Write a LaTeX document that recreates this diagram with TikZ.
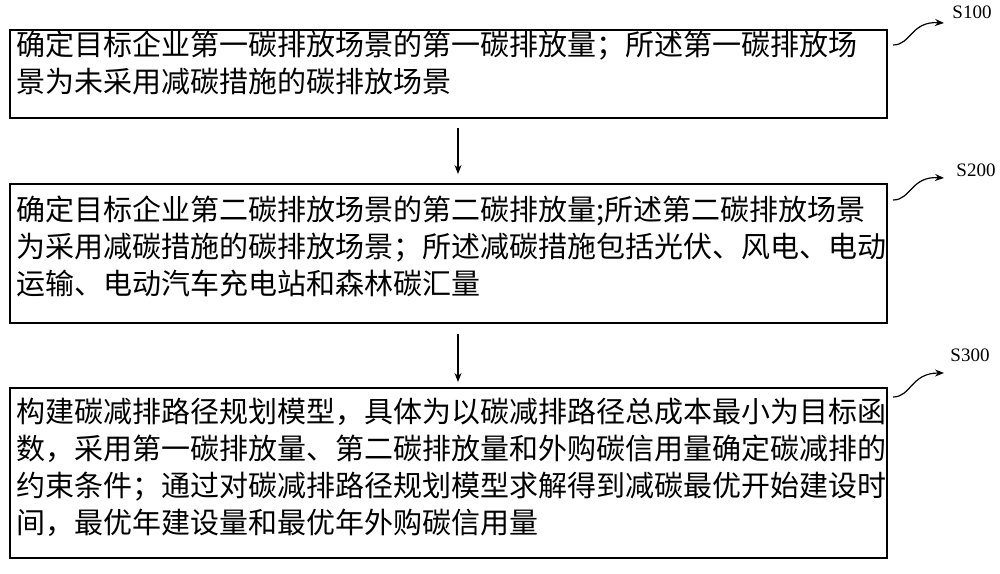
\documentclass[tikz,border=0pt]{standalone}
\usepackage{fontspec}
\setmainfont{Liberation Serif}
\newfontfamily\cjk{Noto Sans CJK SC}
\usetikzlibrary{arrows.meta,calc}
\begin{document}
\begin{tikzpicture}[x=1pt,y=-1pt,
  box/.style={draw,line width=1.2pt},
  txt/.style={anchor=north west,align=left,inner sep=0pt,font=\cjk\fontsize{29}{37}\selectfont},
  arr/.style={-{Stealth[length=9pt,width=7pt]},line width=1.2pt},
  lbl/.style={font=\fontsize{19}{22}\selectfont}]
\useasboundingbox (0,0) rectangle (1000,573);
\draw[box] (10,30) rectangle (887,118);
\draw[box] (10,184) rectangle (887,323);
\draw[box] (10,388) rectangle (887,558);
\node[txt] at (16,31) {确定目标企业第一碳排放场景的第一碳排放量；所述第一碳排放场\\景为未采用减碳措施的碳排放场景};
\node[txt] at (16,196) {确定目标企业第二碳排放场景的第二碳排放量;所述第二碳排放场景\\为采用减碳措施的碳排放场景；所述减碳措施包括光伏、风电、电动\\运输、电动汽车充电站和森林碳汇量};
\node[txt] at (16,398) {构建碳减排路径规划模型，具体为以碳减排路径总成本最小为目标函\\数，采用第一碳排放量、第二碳排放量和外购碳信用量确定碳减排的\\约束条件；通过对碳减排路径规划模型求解得到减碳最优开始建设时\\间，最优年建设量和最优年外购碳信用量};
\coordinate (a1) at (458,128); \coordinate (b1) at (458,174);
\coordinate (a2) at (458,334); \coordinate (b2) at (458,382);
\draw[arr] (a1) -- (b1);
\draw[arr] (a2) -- (b2);
\node[lbl] (s1) at (972,12) {S100};
\node[lbl] (s2) at (976,170) {S200};
\node[lbl] (s3) at (970,355) {S300};
\coordinate (c1) at (893,45); \coordinate (d1) at (944,23);
\coordinate (c2) at (893,200); \coordinate (d2) at (944,178);
\coordinate (c3) at (893,397); \coordinate (d3) at (944,373);
\foreach \c/\d in {c1/d1,c2/d2,c3/d3}
  \draw[arr] (\c) .. controls ($(\c)+(18,0)$) and ($(\c)+(18,-24)$) .. (\d);
\end{tikzpicture}
\end{document}
